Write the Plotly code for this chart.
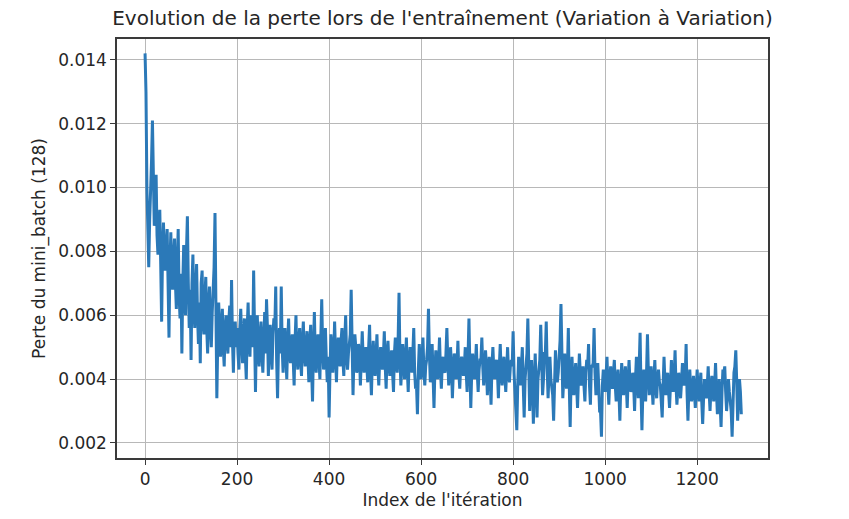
import plotly.graph_objects as go

# Mini-batch loss, in units of 1e-5.
# loss_e5_a: readings at iterations 0, 4, 8, ..., 1296
loss_e5_a = [
    # 0-96
    1420, 1000, 750, 980, 1210, 880, 1040, 790, 930, 580, 890, 740, 870, 530, 860, 680, 840, 620, 870, 590, 480, 820, 600, 910, 560,
    # 100-196
    460, 790, 560, 760, 510, 450, 740, 540, 720, 480, 690, 500, 660, 920, 340, 640, 470, 620, 440, 600, 480, 630, 710, 420, 580,
    # 200-296
    560, 430, 620, 450, 590, 400, 640, 470, 560, 740, 360, 600, 440, 580, 420, 610, 650, 410, 570, 430, 590, 690, 340, 560, 690,
    # 300-396
    420, 560, 400, 590, 450, 540, 380, 600, 430, 560, 410, 580, 440, 550, 390, 570, 330, 610, 420, 540, 400, 650, 430, 560, 390,
    # 400-496
    280, 540, 420, 580, 390, 530, 440, 560, 410, 600, 430, 520, 680, 350, 540, 420, 510, 380, 550, 420, 500, 390, 570, 350, 520,
    # 500-596
    410, 540, 380, 500, 430, 550, 370, 520, 410, 490, 360, 530, 420, 670, 380, 510, 400, 530, 360, 500, 420, 560, 370, 290, 510,
    # 600-696
    400, 530, 380, 460, 620, 390, 510, 310, 490, 400, 530, 370, 470, 420, 560, 380, 500, 340, 480, 400, 520, 370, 470, 410, 500,
    # 700-796
    360, 590, 310, 480, 400, 510, 360, 460, 530, 380, 490, 350, 470, 320, 500, 400, 460, 340, 510, 380, 470, 360, 500, 390, 460,
    # 800-896
    550, 350, 240, 470, 380, 500, 280, 450, 590, 300, 460, 260, 480, 280, 430, 570, 350, 480, 580, 340, 470, 380, 270, 490, 390,
    # 900-996
    460, 635, 340, 480, 370, 560, 250, 470, 350, 450, 310, 480, 380, 440, 330, 460, 510, 320, 440, 560, 350, 450, 300, 220, 430,
    # 1000-1096
    360, 470, 320, 440, 370, 460, 330, 430, 270, 450, 350, 440, 310, 460, 360, 420, 300, 470, 340, 545, 240, 430, 330, 540, 350,
    # 1100-1196
    440, 320, 460, 340, 430, 380, 280, 470, 350, 420, 310, 460, 360, 490, 320, 420, 340, 450, 380, 510, 270, 430, 330, 410, 310,
    # 1200-1296
    430, 330, 420, 260, 400, 340, 440, 300, 410, 330, 450, 290, 400, 250, 430, 440, 300, 400, 330, 220, 420, 490, 270, 400, 290,
]

# loss_e5_b: readings at iterations 2, 6, 10, ..., 1294
loss_e5_b = [
    # 2-98
    1300, 860, 900, 1080, 1000, 930, 850, 870, 760, 800, 780, 820, 700, 760, 720, 790, 700, 760, 660, 730, 700, 650, 800, 700, 680,
    # 102-198
    700, 620, 680, 600, 640, 700, 580, 660, 560, 640, 560, 610, 750, 560, 520, 560, 560, 500, 560, 520, 580, 500, 520, 560, 500,
    # 202-298
    480, 560, 520, 540, 470, 560, 520, 600, 500, 520, 540, 480, 540, 480, 520, 480, 560, 520, 480, 540, 560, 460, 500, 480, 500,
    # 302-398
    520, 470, 520, 480, 520, 460, 520, 470, 520, 460, 520, 480, 500, 470, 520, 430, 500, 470, 520, 460, 530, 500, 480, 460, 470,
    # 402-498
    430, 500, 470, 480, 490, 460, 520, 460, 520, 470, 480, 540, 460, 470, 500, 440, 480, 460, 470, 480, 440, 500, 430, 460, 450,
    # 502-598
    470, 440, 460, 480, 470, 440, 480, 450, 460, 420, 480, 460, 520, 470, 440, 470, 450, 430, 460, 470, 480, 420, 380, 430, 450,
    # 602-698
    460, 430, 440, 500, 480, 440, 410, 430, 460, 450, 430, 450, 430, 480, 460, 420, 440, 420, 460, 440, 420, 440, 450, 440, 420,
    # 702-798
    470, 440, 420, 450, 440, 420, 430, 460, 440, 420, 440, 420, 410, 440, 430, 450, 420, 440, 420, 440, 410, 430, 420, 440, 440,
    # 802-898
    420, 330, 380, 420, 440, 380, 400, 480, 420, 380, 380, 390, 380, 400, 460, 420, 400, 480, 430, 420, 400, 350, 400, 420, 420,
    # 902-998
    520, 440, 400, 420, 430, 380, 400, 390, 410, 380, 400, 420, 400, 380, 420, 440, 380, 440, 450, 420, 380, 380, 300, 380, 400,
    # 1002-1098
    410, 380, 400, 390, 420, 380, 400, 360, 380, 400, 390, 380, 400, 390, 370, 380, 400, 390, 440, 360, 360, 380, 420, 420, 390,
    # 1102-1198
    380, 400, 380, 400, 390, 330, 380, 390, 380, 360, 380, 400, 410, 380, 370, 380, 390, 420, 400, 360, 370, 370, 370, 360, 370,
    # 1202-1294
    370, 380, 330, 340, 370, 380, 360, 370, 370, 380, 360, 340, 320, 360, 420, 360, 350, 360, 300, 330, 440, 390, 340, 360,
]

iterations_a = list(range(0, 1300, 4))
iterations_b = list(range(2, 1296, 4))

# Merge the two reading sets in iteration order
iterations, loss = [], []
for i, v in enumerate(loss_e5_a):
    iterations.append(iterations_a[i]); loss.append(v / 1e5)
    if i < len(loss_e5_b):
        iterations.append(iterations_b[i]); loss.append(loss_e5_b[i] / 1e5)

title_text = "Evolution de la perte lors de l'entraînement (Variation à Variation)"
x_title = "Index de l'itération"
y_title = "Perte du mini_batch (128)"
x_ticks = [0, 200, 400, 600, 800, 1000, 1200]
y_ticks = [0.002, 0.004, 0.006, 0.008, 0.010, 0.012, 0.014]

FONT = "DejaVu Sans"
TXT = "#262626"

fig = go.Figure()
fig.add_trace(go.Scatter(
    x=iterations, y=loss, mode="lines",
    line=dict(color="#2b79b8", width=3),
    showlegend=False,
))

axis_common = dict(
    showline=True, mirror=True, linecolor="#3a3a3a", linewidth=1.5,
    showgrid=True, gridcolor="#b8b8b8", gridwidth=1,
    ticks="outside", ticklen=5, tickwidth=1.2, tickcolor="#3a3a3a",
    zeroline=False,
    tickfont=dict(family=FONT, size=17, color=TXT),
)

fig.update_layout(
    width=849, height=519,
    margin=dict(l=117, r=81, t=39, b=58),
    paper_bgcolor="white", plot_bgcolor="white",
    title=dict(text=title_text, x=(117 + 768) / 2 / 849, xanchor="center",
               y=1 - 18 / 519, yanchor="middle",
               font=dict(family=FONT, size=20, color=TXT)),
    xaxis=dict(range=[-61, 1354], tickvals=x_ticks,
               title=dict(text=x_title, font=dict(family=FONT, size=17, color=TXT), standoff=6),
               **axis_common),
    yaxis=dict(range=[0.00153, 0.01465], tickvals=y_ticks, tickformat=".3f",
               title=dict(text=y_title, font=dict(family=FONT, size=17, color=TXT), standoff=8),
               **axis_common),
)

fig.write_html("out.html")
